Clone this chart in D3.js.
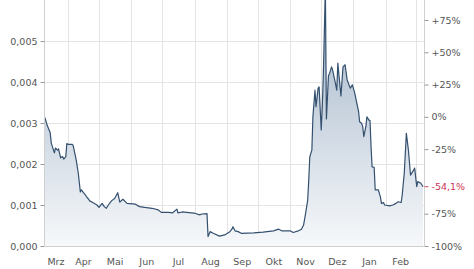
<!DOCTYPE html>
<html><head><meta charset="utf-8">
<script src="https://cdn.jsdelivr.net/npm/d3@7"></script>
<style>html,body{margin:0;padding:0;background:#fff;}svg{display:block;}</style>
</head><body>
<svg id="c" width="474" height="269"></svg>
<script>
// ---- data ----
const startDate = "2023-03-09";
const endDate = "2024-03-09";
const dayOffsets = [0,1,3,6,7,10,11,13,14,16,18,19,21,22,23,27,28,30,31,33,35,36,38,40,41,43,44,47,51,53,56,58,60,62,65,68,71,73,76,80,88,92,97,104,110,113,120,124,128,129,133,142,145,150,152,157,158,160,163,169,174,179,181,182,184,187,190,202,211,221,226,229,237,240,245,248,250,252,254,255,256,257,258,259,261,262,264,265,267,268,269,271,272,274,275,277,278,280,282,283,286,288,290,292,295,297,299,301,303,304,306,307,308,310,311,313,314,315,316,318,319,322,324,325,327,328,333,336,339,341,344,345,347,349,351,353,356,357,359,360,363,365];
const prices = [0.00315,0.00312,0.00295,0.00276,0.00251,0.00227,0.00239,0.00234,0.00237,0.00215,0.00218,0.00212,0.00218,0.00250,0.00248,0.00248,0.00246,0.00222,0.00210,0.00178,0.00132,0.00137,0.00130,0.00124,0.00120,0.00114,0.00110,0.00106,0.00100,0.00094,0.00104,0.00096,0.00092,0.00100,0.00110,0.00116,0.00130,0.00107,0.00114,0.00104,0.00102,0.00096,0.00094,0.00092,0.00088,0.00082,0.00082,0.00081,0.00090,0.00081,0.00083,0.00081,0.00080,0.00076,0.00078,0.00079,0.00023,0.00035,0.00031,0.00024,0.00027,0.00035,0.00041,0.00047,0.00037,0.00035,0.00031,0.00032,0.00034,0.00037,0.00041,0.00037,0.00037,0.00033,0.00037,0.00041,0.00051,0.00080,0.00112,0.00161,0.00217,0.00226,0.00234,0.00315,0.00380,0.00340,0.00385,0.00388,0.00283,0.00339,0.00412,0.00630,0.00310,0.00415,0.00421,0.00437,0.00429,0.00405,0.00380,0.00446,0.00366,0.00437,0.00442,0.00405,0.00385,0.00393,0.00376,0.00352,0.00328,0.00303,0.00299,0.00291,0.00267,0.00291,0.00315,0.00307,0.00306,0.00242,0.00193,0.00192,0.00137,0.00137,0.00120,0.00104,0.00106,0.00100,0.00098,0.00100,0.00104,0.00108,0.00106,0.00124,0.00178,0.00275,0.00234,0.00173,0.00185,0.00190,0.00145,0.00157,0.00153,0.001446];
const leftTicks = [0,0.001,0.002,0.003,0.004,0.005];
const rightTicks = [75,50,25,0,-25,-75,-100];
const monthLabels = ["Mrz","Apr","Mai","Jun","Jul","Aug","Sep","Okt","Nov","Dez","Jan","Feb"];
const monthStarts = ["2023-03-01","2023-04-01","2023-05-01","2023-06-01","2023-07-01","2023-08-01","2023-09-01","2023-10-01","2023-11-01","2023-12-01","2024-01-01","2024-02-01","2024-03-01"];

// ---- chart ----
const parse = d3.timeParse("%Y-%m-%d");
const t0 = parse(startDate), t1 = parse(endDate);
const data = dayOffsets.map((d,i)=>({date:d3.timeDay.offset(t0,d), v:prices[i]}));
const base = prices[0];
const last = prices[prices.length-1];

const L=44, R=424, T=0, B=246;
const x = d3.scaleTime().domain([t0,t1]).range([L,R]);
const y = d3.scaleLinear().domain([0,0.006]).range([B,T]);
const font = "'DejaVu Sans', Verdana, sans-serif";

const svg = d3.select("#c");
const defs = svg.append("defs");
const g = defs.append("linearGradient").attr("id","grad").attr("gradientUnits","userSpaceOnUse")
  .attr("x1",0).attr("y1",T).attr("x2",0).attr("y2",B);
g.append("stop").attr("offset",0).attr("stop-color","#a3b5c9");
g.append("stop").attr("offset",1).attr("stop-color","#f6f8fa");
defs.append("clipPath").attr("id","clip").append("rect").attr("x",L).attr("y",T).attr("width",R-L).attr("height",B-T);

// grid
const ms = monthStarts.map(parse);
svg.append("g").selectAll("line").data(ms.slice(1)).join("line")
  .attr("x1",d=>Math.round(x(d))+0.5).attr("x2",d=>Math.round(x(d))+0.5)
  .attr("y1",T).attr("y2",B).attr("stroke","#e4e4e4").attr("stroke-width",1);
svg.append("g").selectAll("line").data(leftTicks.slice(1)).join("line")
  .attr("x1",L).attr("x2",R).attr("y1",d=>Math.round(y(d))+0.5).attr("y2",d=>Math.round(y(d))+0.5)
  .attr("stroke","#e4e4e4").attr("stroke-width",1);

// area + line
const plot = svg.append("g").attr("clip-path","url(#clip)");
plot.append("path").datum(data)
  .attr("d", d3.area().x(d=>x(d.date)).y0(B).y1(d=>y(d.v)))
  .attr("fill","url(#grad)");
plot.append("path").datum(data)
  .attr("d", d3.line().x(d=>x(d.date)).y(d=>y(d.v)))
  .attr("fill","none").attr("stroke","#34506f").attr("stroke-width",1.2).attr("stroke-linejoin","round");

// left axis
const fmtL = v => d3.format(".3f")(v).replace(".",",");
const la = svg.append("g").attr("transform",`translate(${L+0.5},0)`)
  .call(d3.axisLeft(y).tickValues(leftTicks).tickFormat(fmtL).tickSize(4).tickPadding(3));
la.select(".domain").attr("stroke","#d0d0d0").attr("d",`M0,${T}V${B}`);
la.selectAll(".tick line").attr("stroke","#999");
la.selectAll("text").attr("font-family",font).attr("font-size","9.5px").attr("fill","#555");

// bottom axis line
svg.append("line").attr("x1",L).attr("x2",R).attr("y1",B+0.5).attr("y2",B+0.5).attr("stroke","#d0d0d0");

// right axis
const yPct = p => y(base*(1+p/100));
const fmtR = p => (p>0?"+":"")+p+"%";
const ra = svg.append("g").attr("transform",`translate(${R+0.5},0)`)
  .call(d3.axisRight(d3.scaleLinear().domain([-100,(0.006/base-1)*100]).range([B,T]))
    .tickValues(rightTicks).tickFormat(fmtR).tickSize(4).tickPadding(3));
ra.select(".domain").attr("stroke","#d0d0d0").attr("d",`M0,${T}V${B}`);
ra.selectAll(".tick line").attr("stroke","#999");
ra.selectAll("text").attr("font-family",font).attr("font-size","9.5px").attr("fill","#555");
const lastPct = (last/base-1)*100;
const lp = svg.append("g").attr("transform",`translate(${R+0.5},${y(last)})`);
lp.append("line").attr("x1",0).attr("x2",4).attr("stroke","#c8506a");
lp.append("text").attr("x",7).attr("dy","0.32em").attr("font-family",font).attr("font-size","9.5px")
  .attr("fill","#cc3355").text(d3.format(".1f")(lastPct).replace(".",",").replace("−","-")+"%");

// month labels
svg.append("g").selectAll("text").data(monthLabels).join("text")
  .attr("x",(d,i)=>{const a=Math.max(x(ms[i]),L), b=x(ms[i+1]); return (a+b)/2;})
  .attr("y",265).attr("text-anchor","middle")
  .attr("font-family",font).attr("font-size","9.5px").attr("fill","#555").text(d=>d);
</script>
</body></html>
